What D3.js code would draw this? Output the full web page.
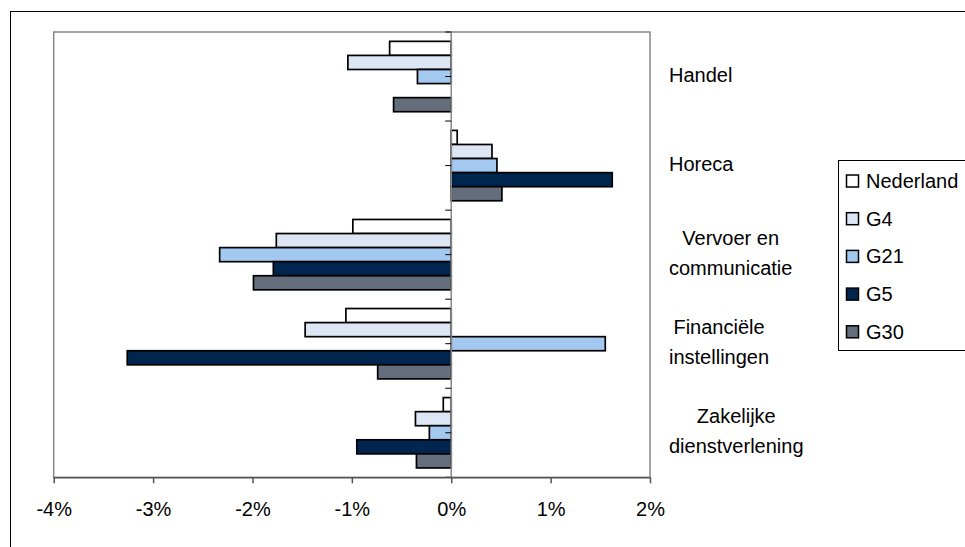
<!DOCTYPE html>
<html><head><meta charset="utf-8">
<script src="https://cdn.jsdelivr.net/npm/d3@7"></script>
<style>body{margin:0;background:#fff}svg{display:block;font-family:"Liberation Sans",Arial,sans-serif}</style>
</head><body><svg id="c" width="965" height="547"></svg>
<script>
const categories = ["Handel", "Horeca", "Vervoer en\ncommunicatie", "Financiële\ninstellingen", "Zakelijke\ndienstverlening"];
const seriesNames = ["Nederland", "G4", "G21", "G5", "G30"];
const seriesColors = ["#ffffff", "#dce6f5", "#a3c9f0", "#00264f", "#636d7c"];
const nederland = [-0.62, 0.06, -0.99, -1.06, -0.08];
const g4 = [-1.04, 0.41, -1.76, -1.47, -0.36];
const g21 = [-0.34, 0.46, -2.33, 1.55, -0.22];
const g5 = [null, 1.62, -1.79, -3.26, -0.95];
const g30 = [-0.58, 0.51, -1.99, -0.74, -0.35];
const xTicks = [-4, -3, -2, -1, 0, 1, 2];

const seriesValues = [nederland, g4, g21, g5, g30];
const svg = d3.select("#c");
const L = 53.7, R = 650, T = 32, B = 477.3;

// outer border
svg.append("rect").attr("x", 10.5).attr("y", 11.5).attr("width", 1000).attr("height", 600)
  .attr("fill", "none").attr("stroke", "#000").attr("stroke-width", 1);

const x = d3.scaleLinear().domain([-4, 2]).range([L, R]);
const y = d3.scaleBand().domain(d3.range(categories.length)).range([T, B]).paddingInner(0.21).paddingOuter(0.105);
const ySub = d3.scaleBand().domain(d3.range(seriesNames.length)).range([0, y.bandwidth()]).padding(0);

// plot area
svg.append("rect").attr("x", L).attr("y", T).attr("width", R - L).attr("height", B - T)
  .attr("fill", "#fff").attr("stroke", "#888").attr("stroke-width", 1.5);

// bars
const data = [];
categories.forEach((c, ci) => seriesValues.forEach((s, si) => {
  if (s[ci] !== null) data.push({ci, si, v: s[ci]});
}));
svg.append("g").selectAll("rect").data(data).join("rect")
  .attr("x", d => x(Math.min(0, d.v)))
  .attr("width", d => Math.abs(x(d.v) - x(0)))
  .attr("y", d => y(d.ci) + ySub(d.si))
  .attr("height", ySub.bandwidth())
  .attr("fill", d => seriesColors[d.si])
  .attr("stroke", "#000").attr("stroke-width", 1.7);

// zero line (category axis)
const step = y.step();
svg.append("line").attr("x1", x(0)).attr("x2", x(0)).attr("y1", T).attr("y2", B)
  .attr("stroke", "#888").attr("stroke-width", 1.5);
const catTicks = d3.range(0, 2 * categories.length + 1).map(i => T + i * step / 2);
svg.append("g").selectAll("line").data(catTicks).join("line")
  .attr("x1", x(0) - 6).attr("x2", x(0)).attr("y1", d => d).attr("y2", d => d)
  .attr("stroke", "#000").attr("stroke-width", 1);

// x axis
const xAxis = svg.append("g").attr("transform", `translate(0,${B})`)
  .call(d3.axisBottom(x).tickValues(xTicks).tickSize(6).tickSizeOuter(0).tickFormat(d => d + "%"));
xAxis.select(".domain").attr("stroke", "#555").attr("stroke-width", 1.5);
xAxis.selectAll(".tick line").attr("stroke", "#555").attr("stroke-width", 1.5);
xAxis.selectAll(".tick text").attr("font-size", 20).attr("font-family", '"Liberation Sans",Arial,sans-serif')
  .attr("fill", "#000").attr("y", 0).attr("dy", 0).attr("transform", "translate(0,39)");

// category labels
categories.forEach((c, ci) => {
  const lines = c.split("\n");
  const cy = y(ci) + y.bandwidth() / 2;
  const g = svg.append("g");
  const texts = lines.map((ln, i) => g.append("text").text(ln)
    .attr("font-size", 20).attr("fill", "#000")
    .attr("y", cy + 5 + (i - (lines.length - 1) / 2) * 30));
  const widths = texts.map(t => t.node().getComputedTextLength());
  const maxW = d3.max(widths);
  texts.forEach((t, i) => t.attr("x", 669 + (maxW - widths[i]) / 2));
});

// legend
const lg = svg.append("g");
lg.append("rect").attr("x", 838.5).attr("y", 160.5).attr("width", 200).attr("height", 190)
  .attr("fill", "#fff").attr("stroke", "#000").attr("stroke-width", 1);
seriesNames.forEach((n, i) => {
  const cy = 181 + i * 37.7;
  lg.append("rect").attr("x", 846.5).attr("y", cy - 6).attr("width", 12).attr("height", 12)
    .attr("fill", seriesColors[i]).attr("stroke", "#000").attr("stroke-width", 1.5);
  lg.append("text").attr("x", 866).attr("y", cy + 7).attr("font-size", 20).attr("fill", "#000").text(n);
});
</script></body></html>
